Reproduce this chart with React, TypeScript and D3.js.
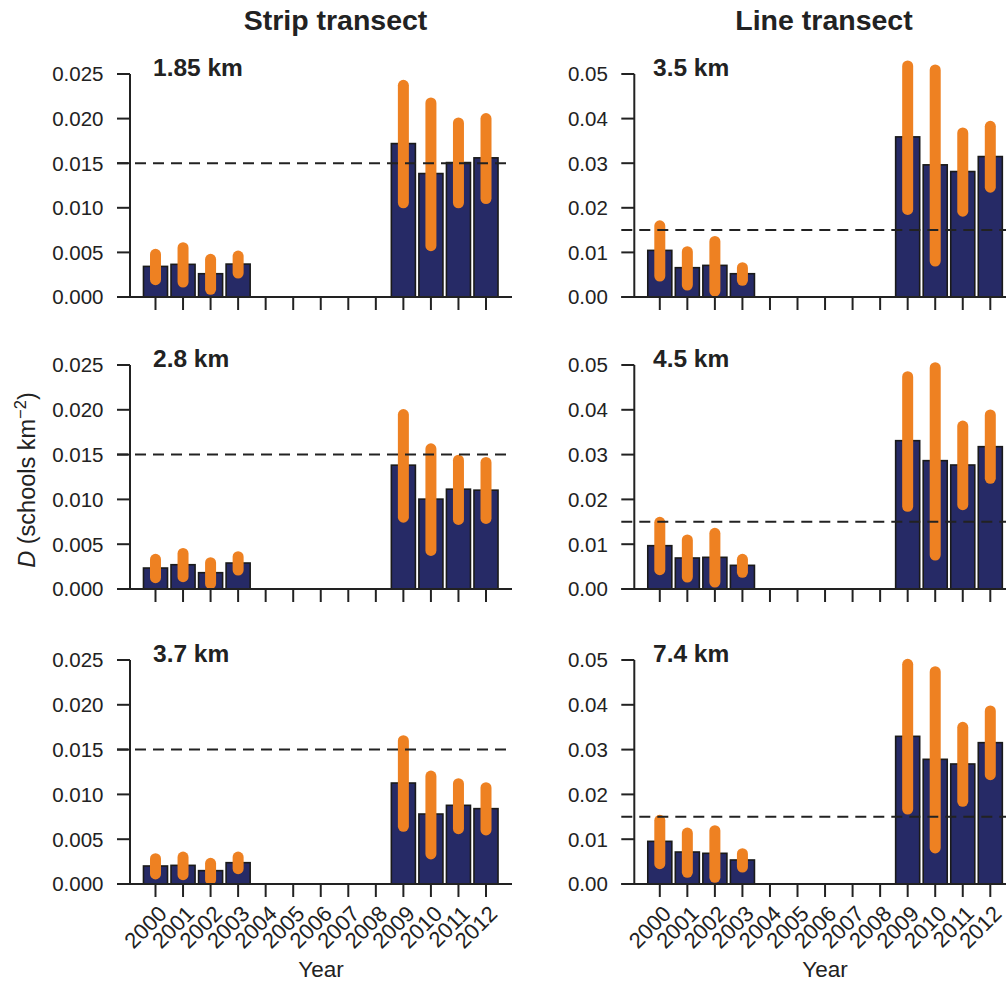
import React from "react";
import * as d3 from "d3";

const allYears = d3.range(2000, 2013);
const dataYears = [2000, 2001, 2002, 2003, 2009, 2010, 2011, 2012];

const strip185Est = [0.00343, 0.00366, 0.00261, 0.00369, 0.0172, 0.01384, 0.01507, 0.0156];
const strip185Lo = [0.00194, 0.00168, 0.00086, 0.00269, 0.01056, 0.00575, 0.01056, 0.01104];
const strip185Hi = [0.00478, 0.00552, 0.00422, 0.00459, 0.02373, 0.02175, 0.01951, 0.02];

const strip28Est = [0.00234, 0.00271, 0.00182, 0.0029, 0.01382, 0.01003, 0.01114, 0.01103];
const strip28Lo = [0.00126, 0.00137, 0.00059, 0.00212, 0.00802, 0.00431, 0.00776, 0.00788];
const strip28Hi = [0.00331, 0.00397, 0.00293, 0.0036, 0.01947, 0.01564, 0.01438, 0.01412];

const strip37Est = [0.00201, 0.00208, 0.00149, 0.00238, 0.01127, 0.00781, 0.00878, 0.00841];
const strip37Lo = [0.00112, 0.00104, 0.00048, 0.00171, 0.00644, 0.00335, 0.00618, 0.00603];
const strip37Hi = [0.00283, 0.00301, 0.00231, 0.00301, 0.016, 0.01205, 0.0112, 0.01075];

const line35Est = [0.01045, 0.00657, 0.00709, 0.00522, 0.0359, 0.02963, 0.02813, 0.03149];
const line35Lo = [0.0047, 0.00269, 0.00134, 0.00373, 0.01963, 0.00806, 0.01925, 0.02463];
const line35Hi = [0.01597, 0.01015, 0.01246, 0.00657, 0.0518, 0.0509, 0.03679, 0.03828];

const line45Est = [0.00967, 0.00692, 0.00707, 0.00528, 0.03311, 0.02865, 0.02768, 0.03177];
const line45Lo = [0.00432, 0.00268, 0.00156, 0.00372, 0.01845, 0.00759, 0.01882, 0.0247];
const line45Hi = [0.01488, 0.01094, 0.01243, 0.00662, 0.0474, 0.0494, 0.03638, 0.03884];

const line74Est = [0.00952, 0.00714, 0.00685, 0.00536, 0.03296, 0.02783, 0.02679, 0.03155];
const line74Lo = [0.00454, 0.0026, 0.00149, 0.00379, 0.01674, 0.00804, 0.01845, 0.0244];
const line74Hi = [0.01421, 0.01138, 0.0119, 0.00677, 0.04903, 0.0474, 0.03497, 0.03862];

const stripTicks = [0, 0.005, 0.01, 0.015, 0.02, 0.025];
const lineTicks = [0, 0.01, 0.02, 0.03, 0.04, 0.05];
const refLevel = 0.015;

const columnTitles = ["Strip transect", "Line transect"];

const FONT = "'Liberation Sans', Arial, Helvetica, sans-serif";
const INK = "#222222";
const NAVY = "#262a66";
const ORANGE = "#ee8122";

type PanelSpec = {
  label: string;
  est: number[];
  lo: number[];
  hi: number[];
  ticks: number[];
  fmt: string;
  col: number;
  row: number;
};

const panels: PanelSpec[] = [
  { label: "1.85 km", est: strip185Est, lo: strip185Lo, hi: strip185Hi, ticks: stripTicks, fmt: ".3f", col: 0, row: 0 },
  { label: "2.8 km", est: strip28Est, lo: strip28Lo, hi: strip28Hi, ticks: stripTicks, fmt: ".3f", col: 0, row: 1 },
  { label: "3.7 km", est: strip37Est, lo: strip37Lo, hi: strip37Hi, ticks: stripTicks, fmt: ".3f", col: 0, row: 2 },
  { label: "3.5 km", est: line35Est, lo: line35Lo, hi: line35Hi, ticks: lineTicks, fmt: ".2f", col: 1, row: 0 },
  { label: "4.5 km", est: line45Est, lo: line45Lo, hi: line45Hi, ticks: lineTicks, fmt: ".2f", col: 1, row: 1 },
  { label: "7.4 km", est: line74Est, lo: line74Lo, hi: line74Hi, ticks: lineTicks, fmt: ".2f", col: 1, row: 2 },
];

const colAxisX = [130, 634.3];
const colTitleX = [335.5, 824];
const colLabelX = [153, 653];
const rowTop = [74, 365, 660];
const rowBottom = [297, 589, 884];

function Panel({ p }: { p: PanelSpec }) {
  const ax = colAxisX[p.col];
  const top = rowTop[p.row];
  const bottom = rowBottom[p.row];
  const y = d3.scaleLinear().domain([0, p.ticks[p.ticks.length - 1]]).range([bottom, top]);
  const x = d3.scaleLinear().domain([2000, 2012]).range([ax + 25.5, ax + 25.5 + 330.5]);
  const step = x(2001) - x(2000);
  const barW = step * 0.873;
  const fmt = d3.format(p.fmt);
  const tickLen = 13;
  const lineEnd = ax + 382;
  const showYears = p.row === 2;
  return (
    <g>
      {dataYears.map((yr, i) => (
        <rect
          key={"b" + yr}
          x={x(yr) - barW / 2}
          y={y(p.est[i])}
          width={barW}
          height={y(0) - y(p.est[i])}
          fill={NAVY}
          stroke="#1a1a1a"
          strokeWidth={1.6}
        />
      ))}
      {dataYears.map((yr, i) => (
        <line
          key={"c" + yr}
          x1={x(yr)}
          x2={x(yr)}
          y1={y(p.lo[i])}
          y2={y(p.hi[i])}
          stroke={ORANGE}
          strokeWidth={11}
          strokeLinecap="round"
        />
      ))}
      <line x1={ax} x2={ax} y1={y(0)} y2={top} stroke={INK} strokeWidth={2} />
      {p.ticks.map((t) => (
        <g key={"yt" + t}>
          <line x1={ax - tickLen} x2={ax} y1={y(t)} y2={y(t)} stroke={INK} strokeWidth={2} />
          <text
            x={ax - 26.5}
            y={y(t)}
            dy="0.36em"
            textAnchor="end"
            fontSize={20.5}
            fontFamily={FONT}
            fill={INK}
          >
            {fmt(t)}
          </text>
        </g>
      ))}
      <line x1={ax - tickLen} x2={lineEnd} y1={y(0)} y2={y(0)} stroke={INK} strokeWidth={2} />
      {allYears.map((yr) => (
        <g key={"xt" + yr}>
          <line x1={x(yr)} x2={x(yr)} y1={y(0)} y2={y(0) + tickLen} stroke={INK} strokeWidth={2} />
          {showYears && (
            <text
              transform={`translate(${x(yr) + 1.5},${y(0) + tickLen + 7}) rotate(-45)`}
              textAnchor="end"
              dy="0.72em"
              fontSize={22}
              fontFamily={FONT}
              fill={INK}
            >
              {yr}
            </text>
          )}
        </g>
      ))}
      <line
        x1={ax - tickLen}
        x2={lineEnd}
        y1={y(refLevel)}
        y2={y(refLevel)}
        stroke={INK}
        strokeWidth={2}
        strokeDasharray="11,7"
      />
      <text
        x={colLabelX[p.col]}
        y={top + 1.5}
        fontSize={24.5}
        fontWeight="bold"
        fontFamily={FONT}
        fill={INK}
      >
        {p.label}
      </text>
    </g>
  );
}

export default function App() {
  return (
    <svg
      width={1006}
      height={983}
      style={{ position: "absolute", left: 0, top: 0, background: "#ffffff" }}
    >
      <rect width={1006} height={983} fill="#ffffff" />
      {columnTitles.map((t, i) => (
        <text
          key={t}
          x={colTitleX[i]}
          y={30}
          textAnchor="middle"
          fontSize={28.5}
          fontWeight="bold"
          fontFamily={FONT}
          fill={INK}
        >
          {t}
        </text>
      ))}
      {panels.map((p) => (
        <Panel key={p.label} p={p} />
      ))}
      <text x={321} y={977} textAnchor="middle" fontSize={22.5} fontFamily={FONT} fill={INK}>
        Year
      </text>
      <text x={825} y={977} textAnchor="middle" fontSize={22.5} fontFamily={FONT} fill={INK}>
        Year
      </text>
      <text
        transform="translate(35,480) rotate(-90)"
        textAnchor="middle"
        fontSize={23.5}
        fontFamily={FONT}
        fill={INK}
      >
        <tspan fontStyle="italic">D</tspan>
        <tspan> (schools km</tspan>
        <tspan fontSize={16.5} dy={-9}>−2</tspan>
        <tspan dy={9}>)</tspan>
      </text>
    </svg>
  );
}
